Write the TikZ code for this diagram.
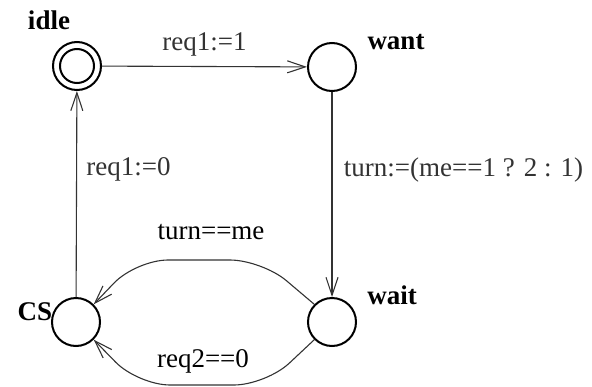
\documentclass[tikz,border=0pt]{standalone}
\usepackage{fontspec}
\setmainfont{Liberation Serif}
\usetikzlibrary{arrows.meta}

\begin{document}
\begin{tikzpicture}[x=1pt, y=-1pt, >={Straight Barb[length=18pt, width=12pt]},
    state/.style={circle, draw, line width=2pt, minimum size=48pt, inner sep=0pt},
    statename/.style={font=\fontsize{27}{32}\selectfont\bfseries},
    edge/.style={->, line width=1.1pt, black!80},
    every node/.style={font=\fontsize{27}{32}\selectfont}]
    \useasboundingbox (0,0) rectangle (592,386);

    % Zustaende
    \node[state] (idle) at (77,66) {};
    \node[circle, draw, line width=2pt, minimum size=34pt, inner sep=0pt] (idlein) at (idle) {};
    \node[state] (want) at (332,67) {};
    \node[state] (wait) at (332,322) {};
    \node[state] (cs) at (76,322) {};

    % Namen der Zustaende
    \node[statename] (nidle) at (49,20) {idle};
    \node[statename] (nwant) at (396,42) {want};
    \node[statename] (nwait) at (392,295) {wait};
    \node[statename] (ncs) at (35,312) {CS};

    % Eckpunkte der gebogenen Kanten
    \coordinate (o1) at (262,260);
    \coordinate (o2) at (136,260);
    \coordinate (u1) at (266,385);
    \coordinate (u2) at (138,385);

    % Kanten
    \draw[edge] (idle) -- (want) node[midway, above=6pt] {req1:=1};
    \draw[edge] (want) -- (wait) node[pos=0.38, right=8pt] {turn:=(me==1 ? 2 : 1)};
    \draw[edge] (cs) -- (idle) node[pos=0.62, right=6pt] {req1:=0};
    \draw[edge, rounded corners=32pt] (wait.135) -- (o1) -- (o2) -- (cs.45);
    \draw[edge, rounded corners=32pt] (wait.225) -- (u1) -- (u2) -- (cs.-45);

    % Waechter
    \node (lturn) at (211,232) {turn==me};
    \node (lreq) at (203,361) {req2==0};
\end{tikzpicture}
\end{document}
